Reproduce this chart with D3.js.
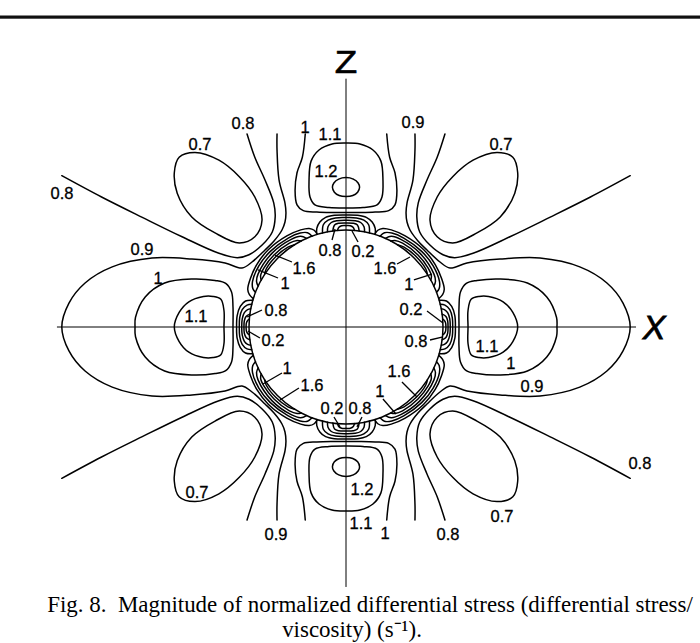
<!DOCTYPE html>
<html>
<head>
<meta charset="utf-8">
<script src="https://cdn.jsdelivr.net/npm/d3@7"></script>
<style>
  html, body { margin: 0; padding: 0; background: #fff; }
  svg { display: block; }
</style>
</head>
<body>
<svg id="chart" width="700" height="643"></svg>
<script>
// Isolines of normalized differential stress around a circular inclusion.
// Coordinates are in inclusion radii (x to the right, z upward). The field is
// mirror-symmetric about both axes, so the upper-right quadrant is listed and
// reflected into the other three.

// Far-field isolines (x, z)
const zLobe12 = [[0,1.54],[0.075,1.525],[0.125,1.485],[0.14,1.44],[0.12,1.39],[0.07,1.355],[0,1.345]];
const zLobe11 = [[0,1.897],[0.144,1.887],[0.278,1.825],[0.36,1.71],[0.381,1.515],[0.371,1.34],[0.32,1.258],[0.175,1.232],[0,1.227]];
const zLine10 = [[0.42,1.99],[0.45,1.75],[0.505,1.59],[0.525,1.41],[0.505,1.26],[0.44,1.2],[0.3,1.185],[0.15,1.18],[0,1.18]];
const line09  = [[0.711,1.99],[0.711,1.825],[0.69,1.515],[0.629,1.278],[0.619,1.175],[0.629,1.082],[0.66,1.0],[0.742,0.887],
                 [0.835,0.794],[0.969,0.67],[1.072,0.608],[1.247,0.66],[1.588,0.70],[2.0,0.711],[2.41,0.62],[2.69,0.454],[2.856,0.247],[2.93,0]];
const line08  = [[1.02,1.99],[0.94,1.75],[0.835,1.515],[0.745,1.28],[0.73,1.135],[0.76,0.98],[0.865,0.845],[1.0,0.745],
                 [1.12,0.715],[1.31,0.76],[1.69,0.93],[2.1,1.13],[2.52,1.34],[2.93,1.56]];
const loop07  = [[1.556,1.80],[1.72,1.75],[1.77,1.59],[1.74,1.38],[1.59,1.135],[1.35,0.97],[1.10,0.866],[0.94,0.93],
                 [0.866,1.10],[0.94,1.34],[1.10,1.55],[1.31,1.72]];
const xLobe10 = [[1.165,0],[1.165,0.206],[1.18,0.36],[1.24,0.45],[1.35,0.48],[1.59,0.495],[1.87,0.454],[2.07,0.31],[2.17,0.10],[2.175,0]];
const xLobe11 = [[1.258,0],[1.258,0.17],[1.29,0.285],[1.37,0.315],[1.47,0.315],[1.62,0.26],[1.72,0.15],[1.77,0]];

// Near-surface isolines as (angle from +x in degrees, radius)
const packetX = [
  [[0,1.128],[6,1.128],[11,1.11],[14.5,1.07],[16,1.0]],
  [[0,1.1],[5,1.1],[9.5,1.085],[12.5,1.045],[13.5,1.0]],
  [[0,1.075],[4.5,1.073],[8,1.058],[10,1.03],[10.8,1.0]],
  [[0,1.052],[3.5,1.05],[6,1.036],[7.6,1.0]],
  [[0,1.03],[2.2,1.028],[3.8,1.016],[4.6,1.0]]
];
const packetZ = [
  [[90,1.155],[84,1.158],[79.5,1.15],[76,1.115],[73.5,1.06],[72.5,1.0]],
  [[90,1.128],[84.5,1.13],[80.5,1.118],[77.5,1.08],[76,1.0]],
  [[90,1.1],[85,1.1],[82,1.088],[79.8,1.05],[79,1.0]],
  [[90,1.073],[86,1.072],[83.6,1.058],[82.2,1.0]],
  [[90,1.045],[87.5,1.044],[85.8,1.028],[85,1.0]]
];
const crescent = [
  [[17,1.0],[18.5,1.05],[21,1.085],[27,1.105],[35,1.123],[45,1.13],[57,1.12],[65,1.105],[69.5,1.085],[71.8,1.05],[72.8,1.0]],
  [[21,1.0],[22.5,1.04],[26,1.072],[35,1.097],[45,1.103],[57,1.093],[64,1.078],[67.8,1.05],[69.5,1.0]],
  [[25,1.0],[27,1.035],[31,1.058],[45,1.077],[58,1.066],[63.5,1.045],[66,1.0]],
  [[29,1.0],[31,1.027],[36,1.043],[45,1.05],[56,1.043],[60.5,1.025],[62.5,1.0]],
  [[33,1.0],[36,1.017],[45,1.025],[54,1.018],[58,1.0]]
];

// Contour labels: text, anchor (x, z), optional leader from/to
const contourLabels = [
  ["0.8", [-1.062, 2.103]], ["1", [-0.423, 2.062]], ["1.1", [-0.165, 1.99]], ["1.2", [-0.206, 1.608]],
  ["0.9", [0.691, 2.113]], ["0.7", [1.598, 1.887]], ["0.7", [-1.505, 1.887]], ["0.8", [-2.928, 1.381]],
  ["0.9", [-2.103, 0.804]], ["1", [-1.938, 0.505]], ["1.1", [-1.546, 0.113]],
  ["0.8", [-0.165, 0.794], [[-0.144, 0.897], [-0.113, 1.01]]],
  ["1.6", [-0.433, 0.608], [[-0.557, 0.67], [-0.732, 0.742]]],
  ["1", [-0.629, 0.454], [[-0.701, 0.505], [-0.907, 0.588]]],
  ["0.8", [-0.722, 0.175], [[-0.866, 0.175], [-1.02, 0.103]]],
  ["0.2", [-0.753, -0.134], [[-0.887, -0.113], [-1.01, -0.041]]],
  ["0.2", [0.175, 0.784], [[0.124, 0.876], [0.062, 0.99]]],
  ["1.6", [0.402, 0.608], [[0.526, 0.65], [0.66, 0.722]]],
  ["1", [0.649, 0.443], [[0.70, 0.485], [0.887, 0.546]]],
  ["0.2", [0.67, 0.186], [[0.835, 0.165], [1.0, 0.041]]],
  ["0.8", [0.722, -0.144], [[0.866, -0.134], [1.0, -0.103]]],
  ["1.1", [1.454, -0.196]], ["1", [1.70, -0.371]], ["0.9", [1.918, -0.608]],
  ["1", [-0.608, -0.423], [[-0.66, -0.474], [-0.856, -0.588]]],
  ["1.6", [-0.35, -0.598], [[-0.485, -0.629], [-0.68, -0.753]]],
  ["0.2", [-0.144, -0.835], [[-0.124, -0.928], [-0.062, -1.03]]],
  ["0.8", [0.144, -0.835], [[0.165, -0.928], [0.113, -1.03]]],
  ["1", [0.35, -0.66], [[0.381, -0.742], [0.515, -0.897]]],
  ["1.6", [0.546, -0.454], [[0.577, -0.567], [0.732, -0.722]]],
  ["1.2", [0.165, -1.67]], ["1.1", [0.155, -2.02]], ["1", [0.402, -2.124]],
  ["0.9", [-0.722, -2.134]], ["0.8", [1.052, -2.134]],
  ["0.7", [-1.536, -1.70]], ["0.7", [1.608, -1.948]], ["0.8", [3.03, -1.40]]
];

const axisX = [-2.98, 2.99];
const axisZ = [-2.68, 2.56];
const captionLines = ["Fig. 8.  Magnitude of normalized differential stress (differential stress/", "viscosity) (s\u207B\u00B9)."];

// ---- drawing ----
const svg = d3.select("#chart");
const cx = 346, cy = 327, R = 97;
const x = d3.scaleLinear().domain([-1, 1]).range([cx - R, cx + R]);
const z = d3.scaleLinear().domain([-1, 1]).range([cy + R, cy - R]);

const openPath = d3.line().x(d => x(d[0])).y(d => z(d[1])).curve(d3.curveCatmullRom.alpha(0.5));
const closedPath = d3.line().x(d => x(d[0])).y(d => z(d[1])).curve(d3.curveCatmullRomClosed.alpha(0.5));

const rad = Math.PI / 180;
const polar = ([t, r]) => [r * Math.cos(t * rad), r * Math.sin(t * rad)];
const flipX = p => [-p[0], p[1]];
const flipZ = p => [p[0], -p[1]];

// a half curve ending on an axis is completed by its mirror image
const closeAcrossZ = h => [...h, ...h.slice(1, -1).reverse().map(flipX)];
const closeAcrossX = h => [...h, ...h.slice(1, -1).reverse().map(flipZ)];
const openAcrossZ = h => [...h, ...h.slice(0, -1).reverse().map(flipX)];
const openAcrossX = h => [...h, ...h.slice(0, -1).reverse().map(flipZ)];
const fromAxisX = h => [...h.slice(1).reverse().map(flipZ), ...h];
const fromAxisZ = h => [...h.slice(1).reverse().map(flipX), ...h];

const upDown = c => [c, c.map(flipZ)];
const leftRight = c => [c, c.map(flipX)];
const fourWay = c => [c, c.map(flipX), c.map(flipZ), c.map(p => [-p[0], -p[1]])];

const openCurves = [];
const closedCurves = [];

closedCurves.push(...upDown(closeAcrossZ(zLobe12)), ...upDown(closeAcrossZ(zLobe11)));
openCurves.push(...upDown(openAcrossZ(zLine10)));
openCurves.push(...leftRight(openAcrossX(line09)));
openCurves.push(...fourWay(line08));
closedCurves.push(...fourWay(loop07));
closedCurves.push(...leftRight(closeAcrossX(xLobe10)), ...leftRight(closeAcrossX(xLobe11)));
packetX.forEach(h => openCurves.push(...leftRight(fromAxisX(h.map(polar)))));
packetZ.forEach(h => openCurves.push(...upDown(fromAxisZ(h.map(polar)))));
crescent.forEach(c => openCurves.push(...fourWay(c.map(polar))));

// rule above the figure
svg.append("rect").attr("x", 0).attr("y", 15.5).attr("width", 700).attr("height", 3.2).attr("fill", "#111");

// coordinate axes
const axes = svg.append("g").attr("stroke", "#000").attr("stroke-width", 1);
axes.append("line").attr("x1", x(axisX[0])).attr("x2", x(axisX[1])).attr("y1", z(0)).attr("y2", z(0));
axes.append("line").attr("x1", x(0)).attr("x2", x(0)).attr("y1", z(axisZ[1])).attr("y2", z(axisZ[0]));

const g = svg.append("g").attr("fill", "none").attr("stroke", "#000").attr("stroke-width", 1.5)
  .attr("stroke-linejoin", "round").attr("stroke-linecap", "round");
g.selectAll("path.open").data(openCurves).join("path").attr("class", "open").attr("d", openPath);
g.selectAll("path.closed").data(closedCurves).join("path").attr("class", "closed").attr("d", closedPath);

// inclusion outline
g.append("circle").attr("cx", x(0)).attr("cy", z(0)).attr("r", x(1) - x(0));

// labels and leaders
const lab = svg.append("g").attr("font-family", "'Liberation Sans', Arial, Helvetica, sans-serif")
  .attr("font-size", 16.5).attr("fill", "#000").attr("stroke", "#000").attr("stroke-width", 0.3);
contourLabels.forEach(([t, p, leader]) => {
  lab.append("text").attr("x", x(p[0])).attr("y", z(p[1])).attr("text-anchor", "middle")
    .attr("dominant-baseline", "central").text(t);
  if (leader) {
    svg.append("line").attr("x1", x(leader[0][0])).attr("y1", z(leader[0][1]))
      .attr("x2", x(leader[1][0])).attr("y2", z(leader[1][1]))
      .attr("stroke", "#000").attr("stroke-width", 1.3);
  }
});

// axis titles
svg.append("text").attr("transform", `translate(${x(0)},73) scale(1.15,1)`).attr("text-anchor", "middle")
  .attr("font-family", "'Liberation Sans', Arial, sans-serif").attr("font-size", 32)
  .attr("stroke", "#000").attr("stroke-width", 0.6).text("Z");
svg.append("text").attr("x", 654).attr("y", 339).attr("text-anchor", "middle")
  .attr("font-family", "'Liberation Sans', Arial, sans-serif").attr("font-size", 34)
  .attr("font-style", "italic").attr("stroke", "#000").attr("stroke-width", 0.8).text("X");

// caption
const cap = svg.append("g").attr("font-family", "'Liberation Serif', 'Times New Roman', serif").attr("fill", "#000");
const c1 = cap.append("text").attr("x", 370).attr("y", 612).attr("text-anchor", "middle")
  .attr("font-size", 20).attr("xml:space", "preserve").text(captionLines[0]);
const w = c1.node().getComputedTextLength();
const fs = 20 * 646 / w;
c1.attr("font-size", fs);
cap.append("text").attr("x", 352).attr("y", 637).attr("text-anchor", "middle")
  .attr("font-size", fs).text(captionLines[1]);
</script>
</body>
</html>
